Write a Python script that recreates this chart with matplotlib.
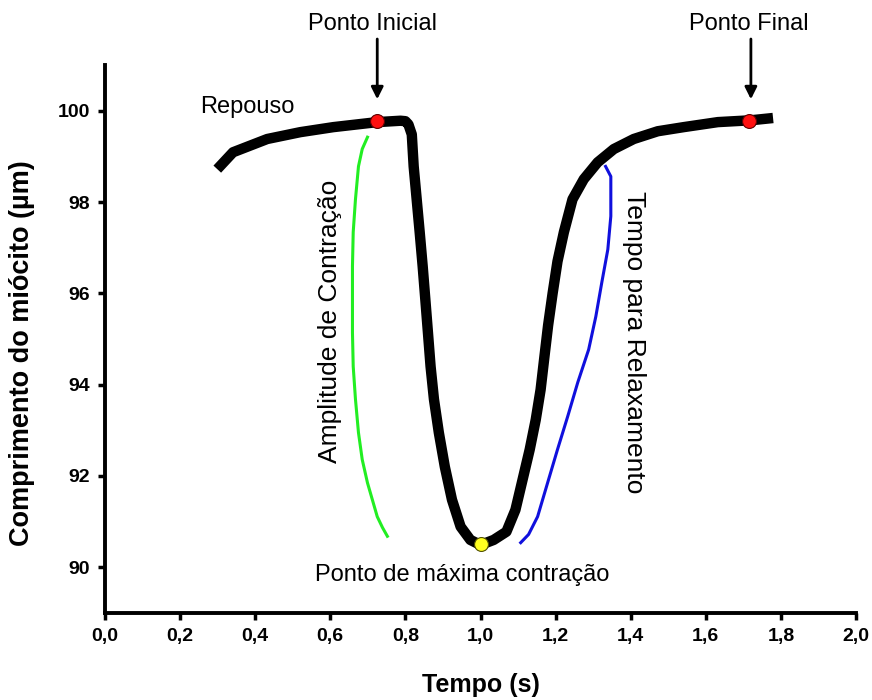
import numpy as np
import matplotlib.pyplot as plt
from matplotlib.ticker import FixedLocator

plt.rc('font', family=['Liberation Sans', 'DejaVu Sans'])

# black trace: cell length over time
tempo = [0.299, 0.341, 0.432, 0.520, 0.608, 0.725, 0.787, 0.800, 0.808,
         0.817, 0.822, 0.830, 0.838, 0.846, 0.853, 0.860, 0.867, 0.876,
         0.889, 0.905, 0.924, 0.947, 0.973, 1.000, 1.035, 1.069, 1.093,
         1.112, 1.131, 1.147, 1.160, 1.170, 1.180, 1.192, 1.205, 1.222,
         1.245, 1.275, 1.312, 1.355, 1.408, 1.472, 1.541, 1.632, 1.720, 1.779]
comprimento = [98.72, 99.09, 99.38, 99.53, 99.64, 99.75, 99.78, 99.77, 99.70,
               99.48, 98.78, 98.06, 97.34, 96.59, 95.87, 95.14, 94.40, 93.68,
               92.95, 92.20, 91.48, 90.89, 90.60, 90.49, 90.60, 90.78, 91.26,
               91.92, 92.58, 93.23, 93.89, 94.60, 95.30, 96.00, 96.70, 97.34,
               98.06, 98.50, 98.87, 99.16, 99.38, 99.55, 99.64, 99.75, 99.79, 99.84]

# green bracket (amplitude)
amp_x = [0.699, 0.685, 0.675, 0.667, 0.661, 0.659, 0.659, 0.659, 0.661,
         0.667, 0.675, 0.685, 0.699, 0.712, 0.725, 0.739, 0.752]
amp_y = [99.42, 99.16, 98.78, 98.06, 97.34, 96.59, 95.87, 95.14, 94.40,
         93.68, 92.95, 92.36, 91.85, 91.48, 91.11, 90.87, 90.68]

# blue bracket (relaxation time)
rel_x = [1.333, 1.347, 1.347, 1.339, 1.323, 1.307, 1.288, 1.259, 1.232,
         1.205, 1.179, 1.152, 1.128, 1.107]
rel_y = [98.78, 98.56, 97.69, 96.96, 96.24, 95.49, 94.77, 94.05, 93.30,
         92.58, 91.86, 91.11, 90.72, 90.54]

# highlighted points
inicial = (0.725, 99.77)
final = (1.715, 99.77)
minimo = (1.000, 90.52)

xticks = [0.0, 0.2, 0.4, 0.6, 0.8, 1.0, 1.2, 1.4, 1.6, 1.8, 2.0]
xtick_labels = ['0,0', '0,2', '0,4', '0,6', '0,8', '1,0', '1,2', '1,4', '1,6', '1,8', '2,0']
yticks = [90, 92, 94, 96, 98, 100]

fig = plt.figure(figsize=(8.72, 7.0), dpi=100)
ax = fig.add_axes([0.1204, 0.1243, 0.8613, 0.7828])

ax.plot(tempo, comprimento, color='black', lw=7.5, solid_capstyle='butt',
        solid_joinstyle='round', zorder=3)
ax.plot(amp_x, amp_y, color='#22ee22', lw=2.2, zorder=2)
ax.plot(rel_x, rel_y, color='#1010dd', lw=2.2, zorder=2)

ax.plot(*inicial, 'o', color='#ff1010', mec='#600000', ms=10, mew=0.8, zorder=5)
ax.plot(*final, 'o', color='#ff1010', mec='#600000', ms=10, mew=0.8, zorder=5)
ax.plot(*minimo, 'o', color='#ffff20', mec='#505000', ms=10, mew=0.8, zorder=5)

ax.set_xlim(0, 2.0)
ax.set_ylim(89, 101)
ax.xaxis.set_major_locator(FixedLocator(xticks))
ax.set_xticklabels(xtick_labels)
ax.set_yticks(yticks)

for s in ['top', 'right']:
    ax.spines[s].set_visible(False)
for s in ['left', 'bottom']:
    ax.spines[s].set_linewidth(2.8)
ax.tick_params(direction='out', length=5, width=2.5, labelsize=14, pad=6)
for lab in ax.get_xticklabels() + ax.get_yticklabels():
    lab.set_fontweight('bold')

ax.set_xlabel('Tempo (s)', fontsize=18, fontweight='bold', labelpad=20)
ax.set_ylabel('Comprimento do miócito (µm)', fontsize=19.5, fontweight='bold')
ax.yaxis.set_label_coords(-0.093, 0.474)

# annotations
for lbl, tx, ax_x in [('Ponto Inicial', 0.712, 0.725), ('Ponto Final', 1.715, 1.72)]:
    ax.text(tx, 101.90, lbl, ha='center', va='center', fontsize=17, clip_on=False)
    ax.annotate('', xy=(ax_x, 100.25), xytext=(ax_x, 101.57), annotation_clip=False,
                arrowprops=dict(arrowstyle='-|>', color='black', lw=2,
                                mutation_scale=18, shrinkA=0, shrinkB=0))
ax.text(0.379, 100.08, 'Repouso', ha='center', va='center', fontsize=17)
ax.text(0.952, 89.84, 'Ponto de máxima contração', ha='center', va='center', fontsize=17)
ax.text(0.60, 95.38, 'Amplitude de Contração', rotation=90, ha='center',
        va='center', fontsize=19)
ax.text(1.408, 94.92, 'Tempo para Relaxamento', rotation=-90, ha='center',
        va='center', fontsize=19)

fig.savefig('out.png', dpi=100)
